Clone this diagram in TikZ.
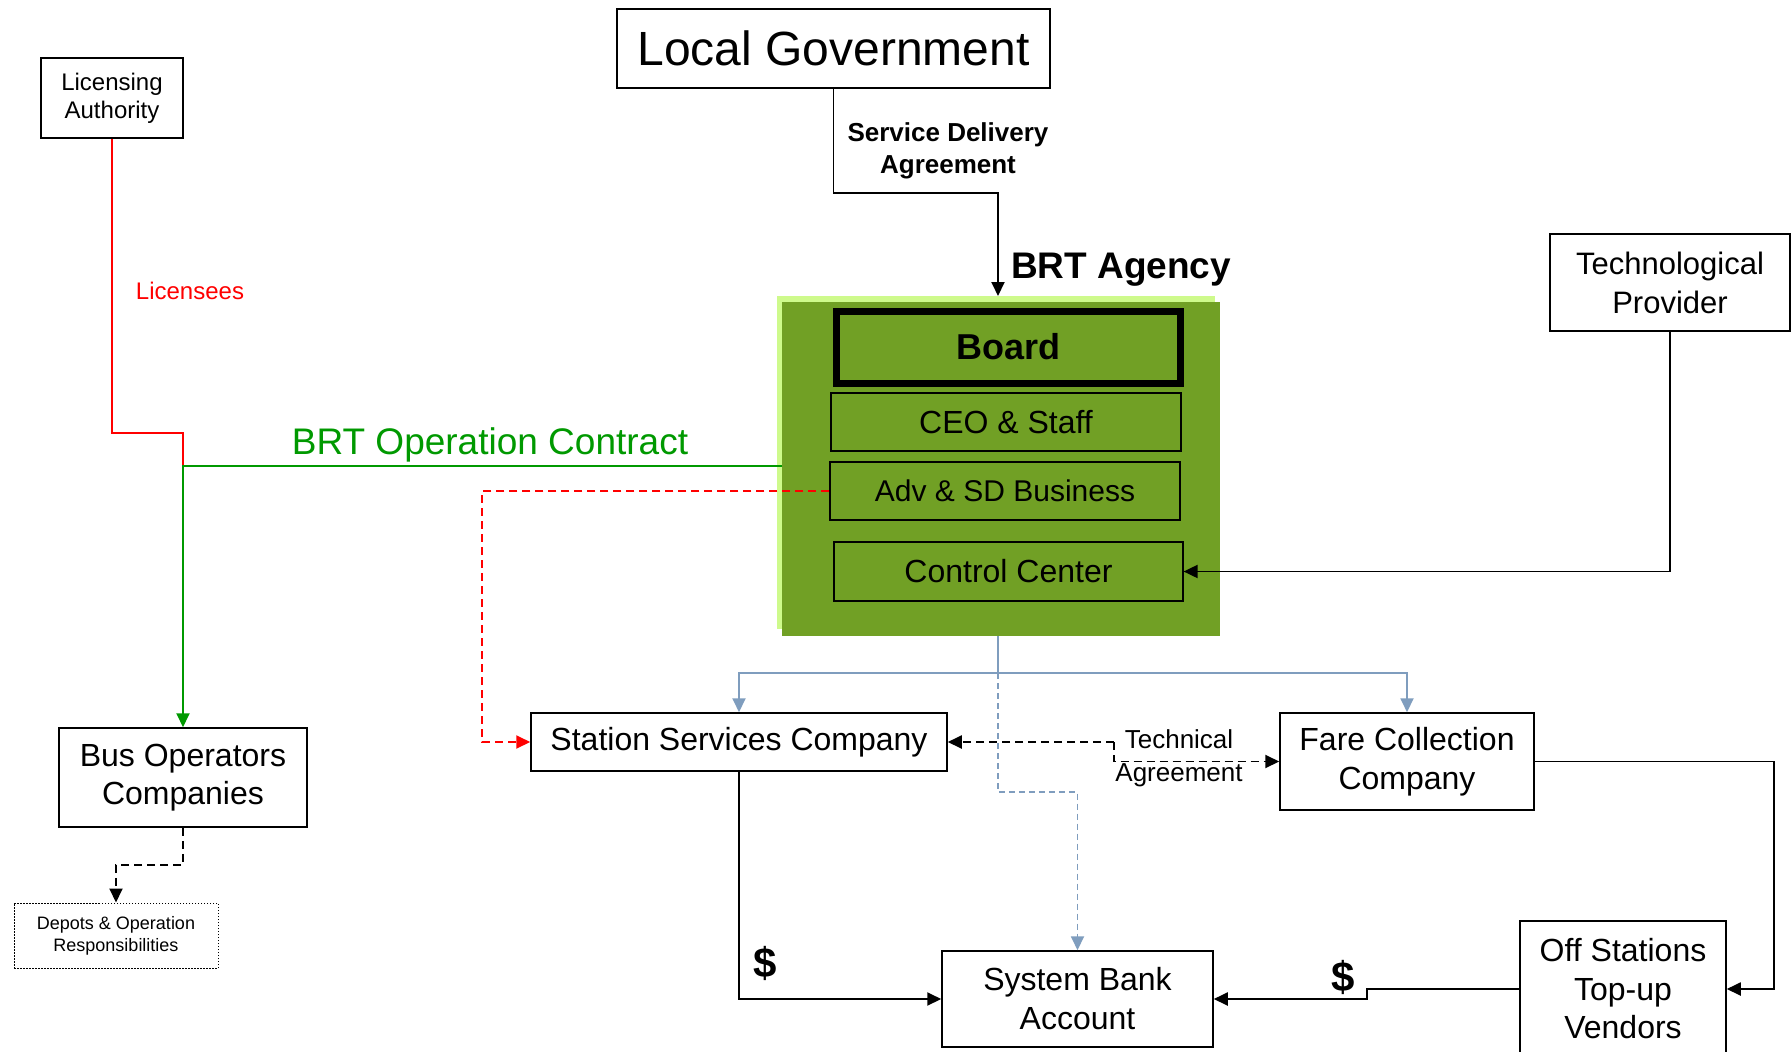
\documentclass[tikz,border=0pt]{standalone}
\usepackage{fontspec}
\setmainfont{Liberation Sans}
\usetikzlibrary{arrows.meta,calc}
\definecolor{olive}{RGB}{113,160,37}
\definecolor{lime}{RGB}{206,250,140}
\definecolor{steel}{RGB}{127,157,190}
\definecolor{ggreen}{RGB}{0,153,0}
\definecolor{rred}{RGB}{255,0,0}
\tikzset{
  box/.style={draw, line width=1.5pt, fill=white, align=center, inner sep=0pt},
  inbox/.style={draw, line width=1.2pt, align=center, inner sep=0pt},
  conn/.style={line width=1.9pt, line join=miter},
  tip/.style={-{Triangle[length=14pt,width=13pt]}},
  dashline/.style={dash pattern=on 8pt off 5pt},
}
\begin{document}
\begin{tikzpicture}[x=1pt,y=-1pt]
\useasboundingbox (0,0) rectangle (1791,1052);
\fill[white] (0,0) rectangle (1791,1052);

% Boxes
\node[box, minimum width=433pt, minimum height=79pt, font=\fontsize{48}{56}\selectfont] (lg) at (833.5,48.5) {Local Government};
\node[box, minimum width=142pt, minimum height=80pt, font=\fontsize{24}{28}\selectfont] (la) at (112,98) {Licensing\\Authority};
\node[box, minimum width=248pt, minimum height=99pt, font=\fontsize{32}{38}\selectfont] (bus) at (183,777.5) {Bus Operators\\Companies};
\node[box, line width=1pt, dash pattern=on 1.5pt off 1.5pt, minimum width=204pt, minimum height=65pt, font=\fontsize{18}{22}\selectfont] (dep) at (116,935.5) {Depots \& Operation\\Responsibilities};
\node[box, minimum width=240pt, minimum height=97pt, font=\fontsize{31}{39}\selectfont] (tp) at (1670,282.5) {Technological\\Provider};

% BRT agency
\node[fill=lime, minimum width=438pt, minimum height=333pt, inner sep=0pt] (shadow) at (996,462.5) {};
\node[fill=olive, minimum width=438pt, minimum height=334pt, inner sep=0pt] (agency) at (1001,469) {};
\node[inbox, line width=7pt, minimum width=344pt, minimum height=72pt, font=\fontsize{36}{42}\selectfont\bfseries] (board) at (1008.5,347) {Board};
\node[inbox, minimum width=350pt, minimum height=58pt, font=\fontsize{32}{38}\selectfont] (ceo) at (1006,422) {CEO \& Staff};
\node[inbox, minimum width=350pt, minimum height=58pt, font=\fontsize{30}{36}\selectfont] (adv) at (1005,491) {Adv \& SD Business};
\node[inbox, minimum width=349pt, minimum height=59pt, font=\fontsize{32}{38}\selectfont] (cc) at (1008.5,571.5) {Control Center};
\node[font=\fontsize{37}{44}\selectfont\bfseries] (brt) at (1121,269.5) {BRT Agency};

\node[box, minimum width=416pt, minimum height=58pt, font=\fontsize{32}{38}\selectfont] (ssc) at (739,742) {Station Services Company};
\node[box, minimum width=254pt, minimum height=97pt, font=\fontsize{32}{39}\selectfont] (fcc) at (1407,761.5) {Fare Collection\\Company};
\node[box, minimum width=271pt, minimum height=96pt, font=\fontsize{32}{39}\selectfont] (sba) at (1077.5,999) {System Bank\\Account};
\node[box, minimum width=206pt, minimum height=136pt, font=\fontsize{32}{38.5}\selectfont] (osv) at (1623,989) {Off Stations\\Top-up\\Vendors};

% Labels
\node[align=center, font=\fontsize{26}{32}\selectfont\bfseries] (sda) at (948,150.5) {Service Delivery\\Agreement};
\node[text=rred, font=\fontsize{24}{28}\selectfont] (lic) at (190,291) {Licensees};
\node[text=ggreen, font=\fontsize{37}{44}\selectfont] (boc) at (490,444.5) {BRT Operation Contract};
\node[font=\fontsize{26}{30}\selectfont] (tech) at (1179,739) {Technical};
\node[font=\fontsize{26}{30}\selectfont] (agr) at (1179,775) {Agreement};
\node[font=\fontsize{42}{48}\selectfont\bfseries] (d1) at (765,963) {\$};
\node[font=\fontsize{42}{48}\selectfont\bfseries] (d2) at (1343,977) {\$};

% Coordinates
\coordinate (agtop) at (998,296);
\coordinate (rj) at (183,433);
\coordinate (gj) at (183,466);
\coordinate (gs) at (782,466);
\coordinate (bs) at (998,636);
\coordinate (bj) at (998,673);
\coordinate (ta1) at (1114,742);
\coordinate (ta2) at (1114,761.5);

% Connectors
\draw[conn, tip] (lg.south) |- (998,193) -- (agtop);
\draw[conn, rred] (la.south) |- (rj) -- (gj);
\draw[conn, ggreen, tip] (gs) -- (gj) -- (bus.north);
\draw[conn, dashline, tip] (bus.south) -- ++(0,37) -| (dep.north);
\draw[conn, tip] (tp.south) |- (cc.east);
\draw[conn, steel] (bs) -- (bj);
\draw[conn, steel, tip] (bj) -| (ssc.north);
\draw[conn, steel, tip] (bj) -| (fcc.north);
\draw[conn, steel, dash pattern=on 6pt off 4pt, tip] (bj) -- (998,792) -| (sba.north);
\draw[conn, dashline, tip] (ta1) -- (ssc.east);
\draw[conn, dashline, tip] (ta1) -- (ta2) -- (fcc.west);
\draw[conn, rred, dashline, tip] (adv.west) -- ++(-347,0) |- (ssc.west);
\draw[conn, tip] (ssc.south) |- (sba.west);
\draw[conn, tip] (osv.west) -- (1367,989) |- (sba.east);
\draw[conn, tip] (fcc.east) -- (1774,761.5) |- (osv.east);
\end{tikzpicture}
\end{document}
